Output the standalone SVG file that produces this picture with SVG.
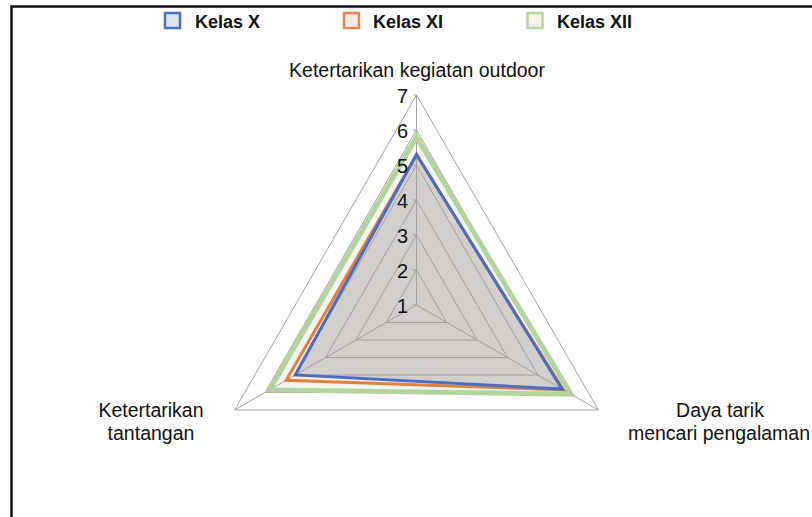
<svg xmlns="http://www.w3.org/2000/svg" width="812" height="517" viewBox="0 0 812 517">
<style>
text{font-family:"Liberation Sans",Arial,Helvetica,sans-serif;fill:#111}
.leg{font-size:18px;font-weight:bold}
.cat{font-size:19.5px;text-anchor:middle}
.num{font-size:20px;text-anchor:end}
.grid{fill:none;stroke:#a3a3a3;stroke-width:1}
.ser{stroke-linejoin:miter}
</style>
<rect x="0" y="0" width="812" height="517" fill="#ffffff"/>
<path d="M11.5 517 V6.5 H812" fill="none" stroke="#111" stroke-width="2.5"/>
<g id="legend">
<g id="legend-x"><rect x="165" y="13" width="15" height="15" fill="#dfe4f1" stroke="#4a70c0" stroke-width="2.5"/><text class="leg" x="195" y="28">Kelas X</text></g>
<g id="legend-xi"><rect x="344" y="13" width="15" height="15" fill="#f8ebe2" stroke="#e08a55" stroke-width="2.5"/><text class="leg" x="373" y="28">Kelas XI</text></g>
<g id="legend-xii"><rect x="527.5" y="13" width="15" height="15" fill="#eef4ea" stroke="#b7d6a3" stroke-width="2.5"/><text class="leg" x="557" y="28">Kelas XII</text></g>
</g>
<g id="fills">
<polygon points="416.5,137 269.5,389.88 571.08,394.25" fill="#f4f5f0"/>
<polygon points="416.5,155 286.16,380.25 563.5,389.88" fill="#f7f0ea"/>
<polygon points="416.5,154.5 295.26,375 561.99,389" fill="#d3cfcd"/>
</g>
<g id="grid">
<polygon class="grid" points="416.5,270 386.19,322.5 446.81,322.5"/>
<polygon class="grid" points="416.5,235 355.88,340 477.12,340"/>
<polygon class="grid" points="416.5,200 325.57,357.5 507.43,357.5"/>
<polygon class="grid" points="416.5,165 295.26,375 537.74,375"/>
<polygon class="grid" points="416.5,130 264.95,392.5 568.05,392.5"/>
<polygon class="grid" points="416.5,95 234.63,410 598.37,410"/>
<path class="grid" d="M416.5 305 V95 M416.5 305 L234.63 410 M416.5 305 L598.37 410"/>
<path class="grid" d="M413 305 H416.5 M413 270 H416.5 M413 235 H416.5 M413 200 H416.5 M413 165 H416.5 M413 130 H416.5 M413 95 H416.5"/>
</g>
<g id="series">
<polygon id="series-xii" class="ser" points="416.5,137 269.5,389.88 571.08,394.25" fill="none" stroke="#b3d49e" stroke-width="5"/>
<polygon id="series-xi" class="ser" points="416.5,155 286.16,380.25 563.5,389.88" fill="none" stroke="#e5813f" stroke-width="3"/>
<polygon id="series-x" class="ser" points="416.5,154.5 295.26,375 561.99,389" fill="none" stroke="#4a6fc2" stroke-width="3"/>
</g>
<g id="axis-labels">
<text class="num" x="408" y="313">1</text>
<text class="num" x="408" y="278">2</text>
<text class="num" x="408" y="243">3</text>
<text class="num" x="408" y="208">4</text>
<text class="num" x="408" y="173">5</text>
<text class="num" x="408" y="138">6</text>
<text class="num" x="408" y="103">7</text>
</g>
<g id="cat-top"><text class="cat" x="417" y="77">Ketertarikan kegiatan outdoor</text></g>
<g id="cat-left"><text class="cat" x="151" y="417">Ketertarikan</text><text class="cat" x="151" y="440">tantangan</text></g>
<g id="cat-right"><text class="cat" x="720" y="417">Daya tarik</text><text class="cat" x="719" y="440">mencari pengalaman</text></g>
</svg>
